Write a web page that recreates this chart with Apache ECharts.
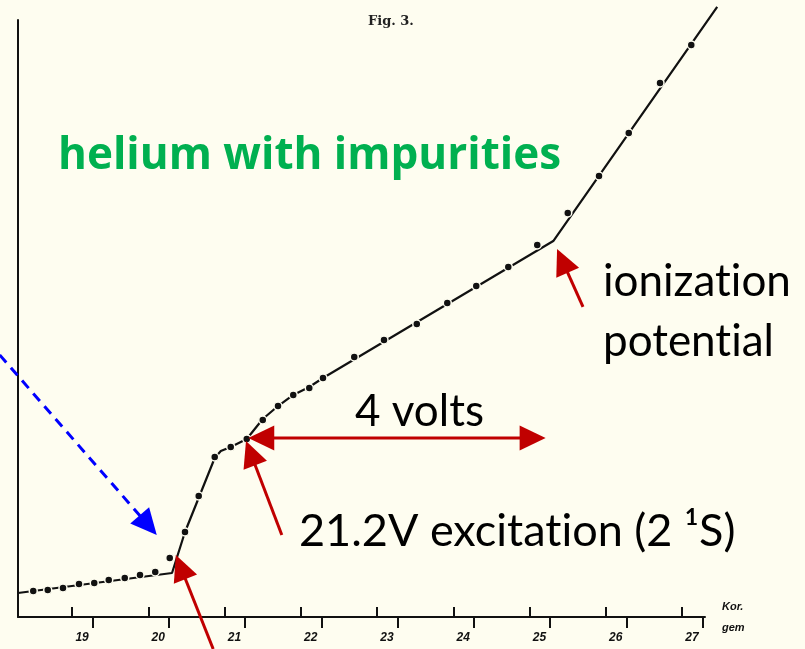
<!DOCTYPE html>
<html>
<head>
<meta charset="utf-8">
<script src="https://cdn.jsdelivr.net/npm/echarts@6/dist/echarts.min.js"></script>
<style>
  html, body { margin: 0; padding: 0; background: #fefdf0; }
  #chart { width: 805px; height: 649px; }
</style>
</head>
<body>
<div id="chart"></div>
<script>
// Measured points: accelerating voltage (V) and collector current (arbitrary units)
const voltage = [18.36, 18.55, 18.75, 18.96, 19.16, 19.35, 19.56, 19.76, 19.96, 20.15,
                 20.35, 20.53, 20.74, 20.95, 21.16, 21.37, 21.57, 21.77, 21.98, 22.16,
                 22.57, 22.96, 23.39, 23.79, 24.17, 24.59, 24.97, 25.37, 25.78, 26.17,
                 26.58, 26.99];
const current = [4.36, 4.52, 4.86, 5.53, 5.70, 6.20, 6.53, 7.04, 7.54, 9.88,
                 14.24, 20.27, 26.80, 28.48, 29.82, 33.00, 35.34, 37.19, 38.36, 40.03,
                 43.55, 46.40, 49.08, 52.60, 55.44, 58.63, 62.31, 67.67, 73.87, 81.07,
                 89.45, 95.81];

// Hand-drawn curve through the points
const curveVoltage = [18.16, 20.18, 20.35, 20.74, 20.82, 20.95, 21.16, 21.37, 21.57, 21.77, 21.98, 22.16, 25.18, 27.33];
const curveCurrent = [4.02, 7.37, 14.24, 26.63, 27.80, 28.48, 29.82, 33.17, 35.34, 37.19, 38.53, 40.03, 62.98, 102.18];

// Voltage scale labels
const tickLabels = [19, 20, 21, 22, 23, 24, 25, 26, 27];

const BG = '#fefdf0';
const INK = '#111111';
const RED = '#c00000';
const BLUE = '#0000ff';

// Plot frame: the drawn axes span 18.16–27.17 V and 0–100 units;
// the curve itself runs a little past the frame, so the series sit on a
// wider invisible grid with the same scale.
const X_MIN = 18.16, X_MAX = 27.17, Y_MAX = 100;
const PX_PER_V = 687 / (X_MAX - X_MIN);
const PX_PER_UNIT = 597 / Y_MAX;

const chart = echarts.init(document.getElementById('chart'), null, { renderer: 'canvas' });

const scaleFont = { color: INK, fontFamily: 'Liberation Sans', fontStyle: 'italic', fontWeight: 'bold', fontSize: 12 };
const hidden = { axisLine: { show: false }, axisTick: { show: false }, axisLabel: { show: false }, splitLine: { show: false } };

chart.setOption({
  backgroundColor: BG,
  animation: false,
  grid: [
    { left: 18, right: 100, top: 20, bottom: 32, outerBoundsMode: 'none' },
    { left: 18, right: 80, top: 0, bottom: 32, outerBoundsMode: 'none' }
  ],
  xAxis: [
    {
      type: 'value', gridIndex: 0, position: 'bottom', min: X_MIN, max: X_MAX,
      axisLine: { show: true, lineStyle: { color: INK, width: 2 } },
      axisTick: { show: true, inside: false, length: 11, lineStyle: { color: INK, width: 2 },
                  customValues: tickLabels.map(v => v + 0.14) },
      axisLabel: { show: true, margin: 15, customValues: tickLabels, ...scaleFont },
      splitLine: { show: false },
      name: 'Kor.\ngem', nameLocation: 'end', nameGap: 17,
      nameTextStyle: { ...scaleFont, fontSize: 11, align: 'left', verticalAlign: 'middle', lineHeight: 21 }
    },
    {
      type: 'value', gridIndex: 0, position: 'bottom', min: X_MIN, max: X_MAX,
      axisLine: { show: false },
      axisTick: { show: true, inside: true, length: 10, lineStyle: { color: INK, width: 2 },
                  customValues: tickLabels.map(v => v - 0.13) },
      axisLabel: { show: false },
      splitLine: { show: false }
    },
    { type: 'value', gridIndex: 1, min: X_MIN, max: X_MAX + 20 / PX_PER_V, ...hidden }
  ],
  yAxis: [
    {
      type: 'value', gridIndex: 0, min: 0, max: Y_MAX,
      axisLine: { show: true, lineStyle: { color: INK, width: 2 } },
      axisTick: { show: false },
      axisLabel: { show: false },
      splitLine: { show: false }
    },
    { type: 'value', gridIndex: 1, min: 0, max: Y_MAX + 20 / PX_PER_UNIT, ...hidden }
  ],
  series: [
    {
      type: 'line', xAxisIndex: 2, yAxisIndex: 1,
      data: curveVoltage.map((v, i) => [v, curveCurrent[i]]),
      showSymbol: false,
      lineStyle: { color: INK, width: 2.2 },
      z: 2
    },
    {
      type: 'scatter', xAxisIndex: 2, yAxisIndex: 1,
      data: voltage.map((v, i) => [v, current[i]]),
      symbolSize: 8,
      itemStyle: { color: INK, borderColor: BG, borderWidth: 1.5, opacity: 1 },
      z: 3
    }
  ]
});

// Annotation arrows, anchored in voltage/current space
const toPx = p => chart.convertToPixel({ gridIndex: 0 }, p);

function head(tip, ux, uy, len, width, color) {
  const bx = tip[0] - ux * len, by = tip[1] - uy * len, hw = width / 2;
  return {
    type: 'polygon',
    shape: { points: [[tip[0], tip[1]], [bx - uy * hw, by + ux * hw], [bx + uy * hw, by - ux * hw]] },
    style: { fill: color }, z: 10
  };
}

function arrow(from, to, color, opts) {
  const o = Object.assign({ width: 3, headLength: 26, headWidth: 25, dash: null, double: false }, opts || {});
  const a = toPx(from), b = toPx(to);
  const dx = b[0] - a[0], dy = b[1] - a[1], L = Math.hypot(dx, dy);
  const ux = dx / L, uy = dy / L;
  const startOff = o.double ? o.headLength - 2 : 0;
  const parts = [{
    type: 'line',
    shape: { x1: a[0] + ux * startOff, y1: a[1] + uy * startOff,
             x2: b[0] - ux * (o.headLength - 2), y2: b[1] - uy * (o.headLength - 2) },
    style: { stroke: color, lineWidth: o.width, lineDash: o.dash },
    z: 10
  }, head(b, ux, uy, o.headLength, o.headWidth, color)];
  if (o.double) parts.push(head(a, -ux, -uy, o.headLength, o.headWidth, color));
  return parts;
}

// "t\u200Ci" keeps the t and i apart (no ti ligature)
function label(text, x, y, size, color, weight, family) {
  return {
    type: 'text', x: x, y: y, z: 11,
    style: { text: text.replace(/ti/g, 't\u200Ci'), fill: color,
             font: (weight || 'normal') + ' ' + size + 'px ' + (family || 'Lato'),
             align: 'left', verticalAlign: 'middle' }
  };
}

const graphics = [].concat(
  arrow([20.72, -5.36], [20.23, 10.39], RED),
  arrow([21.62, 13.74], [21.15, 29.48], RED),
  arrow([21.18, 29.98], [25.08, 29.98], RED, { double: true }),
  arrow([25.57, 51.93], [25.23, 61.64], RED),
  arrow([17.92, 43.89], [19.98, 13.74], BLUE, { dash: [10, 7] }),
  [
    {
      type: 'text', x: 368, y: 22, z: 11,
      style: { text: 'Fig. 3.', fill: '#222', font: 'bold 13px "DejaVu Serif"', align: 'left', verticalAlign: 'middle' }
    },
    label('helium with impurities', 58, 156, 44, '#00b050', 'bold', '"Open Sans"'),
    label('ionization', 603, 282, 44, '#000'),
    label('potential', 603, 342, 44, '#000'),
    label('4 volts', 355, 412, 44, '#000'),
    label('21.2V excitation (2 \u00b9S)', 299, 531, 45, '#000')
  ]
);

chart.setOption({ graphic: graphics });
</script>
</body>
</html>
